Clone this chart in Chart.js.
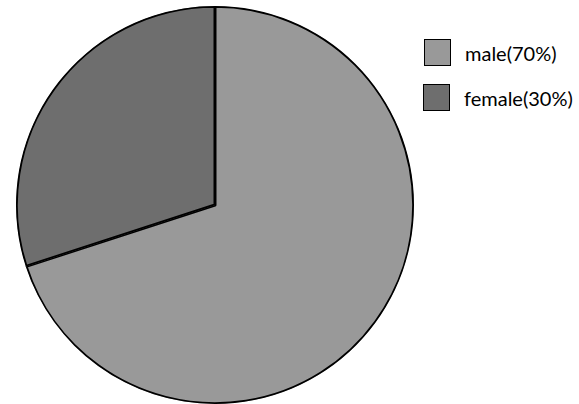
<!DOCTYPE html>
<html>
<head>
<meta charset="utf-8">
<script src="https://cdn.jsdelivr.net/npm/chart.js@4"></script>
<style>
  body { margin: 0; background: #fff; width: 579px; height: 404px; position: relative; overflow: hidden; }
  #wrap { position: absolute; left: 16px; top: 6px; width: 398px; height: 398px; }
  .leg { position: absolute; font-family: Lato, sans-serif; font-size: 20px; color: #000; display: flex; align-items: center; }
  .leg span.box { display: inline-block; width: 25px; height: 25px; border: 1.5px solid #000; margin-right: 14px; }
</style>
</head>
<body>
<div id="wrap"><canvas id="chart"></canvas></div>
<div id="legend"></div>
<script>
const categories = ['male(70%)', 'female(30%)'];
const values = [70, 30];
const colors = ['#999999', '#6e6e6e'];

// html legend, placed like the reference
const legendEl = document.getElementById('legend');
const legendPos = [[424, 39], [423, 84]];
categories.forEach((c, i) => {
  const d = document.createElement('div');
  d.className = 'leg';
  d.style.left = legendPos[i][0] + 'px';
  d.style.top = legendPos[i][1] + 'px';
  d.innerHTML = `<span class="box" style="background:${colors[i]}"></span>${c}`;
  legendEl.appendChild(d);
});

new Chart(document.getElementById('chart'), {
  type: 'pie',
  data: {
    labels: categories,
    datasets: [{
      data: values,
      backgroundColor: colors,
      borderColor: '#000',
      borderWidth: 1.5,
      borderAlign: 'inner'
    }]
  },
  options: {
    responsive: true,
    maintainAspectRatio: false,
    animation: false,
    layout: { padding: 0 },
    plugins: {
      legend: { display: false },
      tooltip: { enabled: false }
    }
  }
});
</script>
</body>
</html>
